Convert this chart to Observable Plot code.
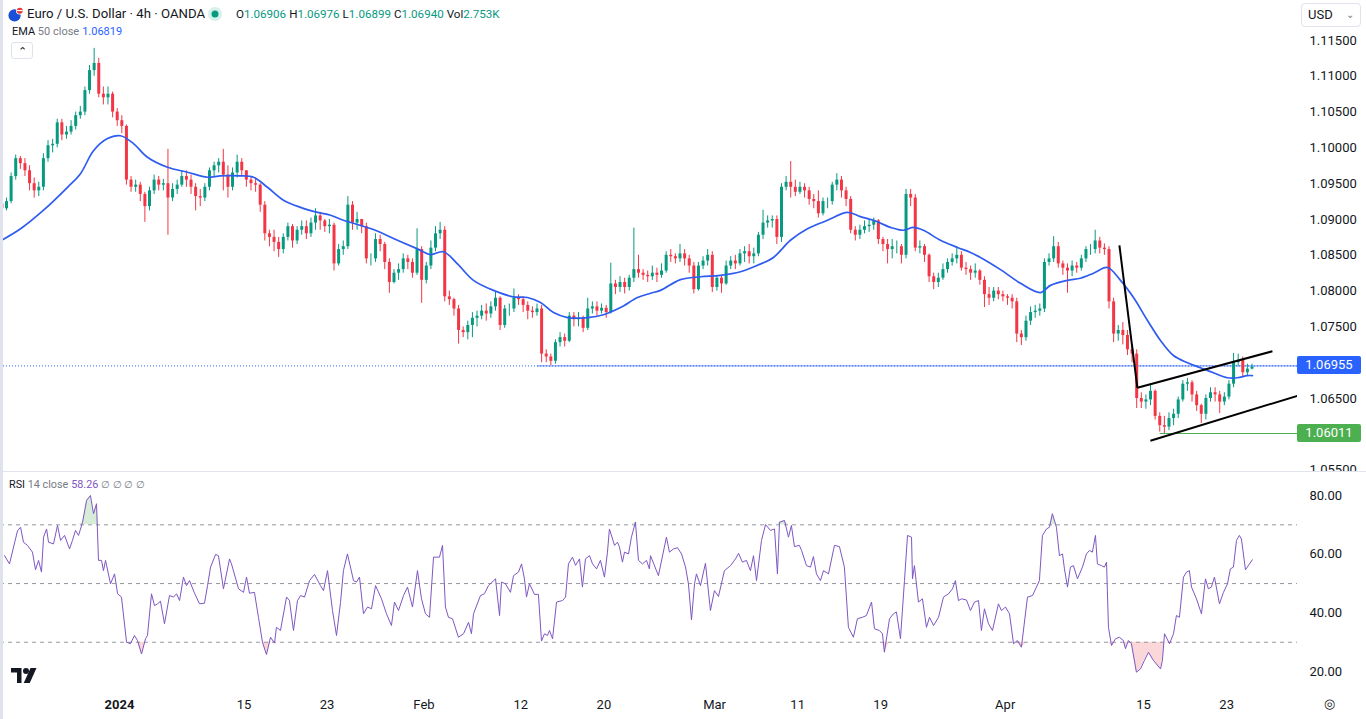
<!DOCTYPE html>
<html><head><meta charset="utf-8">
<script src="https://cdn.jsdelivr.net/npm/d3@7"></script>
<script src="https://cdn.jsdelivr.net/npm/@observablehq/plot@0.6"></script>
<style>
body{margin:0;background:#fff;font-family:Roboto,"Noto Sans",sans-serif;color:#131722}
#root{position:relative;width:1366px;height:719px;overflow:hidden;background:#fff}
.abs{position:absolute;white-space:nowrap;line-height:16px}
.pane{position:absolute;left:0;width:1366px;overflow:hidden}
.g{color:#089981}.gr{color:#787b86}
.sp{display:inline-block;width:3px}
.box{position:absolute;left:1297px;width:64px;height:18px;border-radius:2px;color:#fff;font-size:13px;line-height:18px;text-align:center}
</style></head><body><div id="root"></div>
<script>
// ---------- DATA ----------
const firstDay = "2023-12-18", lastDay = "2024-04-24";
const holidays = ["2023-12-25", "2024-01-01"];
const firstOpen = 1.0918;
// 8-hour candles, three per trading day (closes)
const close = [
1.0922,1.0915,1.0925, 1.0960,1.0985,1.0978, 1.0968,1.0950,1.0940, 1.0945,1.0985,1.1003, 1.1005,1.1035,1.1018,
1.1022,1.1030,1.1045, 1.1050,1.1080,1.1108, 1.1118,1.1075,1.1070, 1.1075,1.1050,1.1038,
1.1030,1.0955,1.0945, 1.0948,1.0935,1.0918, 1.0940,1.0955,1.0948, 1.0950,1.0930,1.0942,
1.0948,1.0960,1.0955, 1.0945,1.0932,1.0930, 1.0945,1.0968,1.0975, 1.0980,1.0962,1.0945, 1.0965,1.0980,1.0968,
1.0955,1.0950,1.0948, 1.0920,1.0880,1.0875, 1.0868,1.0858,1.0875, 1.0890,1.0870,1.0885, 1.0890,1.0880,1.0895,
1.0905,1.0898,1.0890, 1.0892,1.0838,1.0858, 1.0862,1.0920,1.0895, 1.0900,1.0890,1.0845, 1.0845,1.0872,1.0865,
1.0840,1.0812,1.0825, 1.0830,1.0845,1.0840, 1.0825,1.0858,1.0815, 1.0835,1.0860,1.0880, 1.0885,1.0792,1.0788,
1.0775,1.0745,1.0742, 1.0752,1.0762,1.0765, 1.0772,1.0768,1.0778, 1.0790,1.0752,1.0775, 1.0775,1.0790,1.0788,
1.0780,1.0772,1.0770, 1.0775,1.0712,1.0708, 1.0702,1.0728,1.0735, 1.0730,1.0765,1.0760, 1.0762,1.0748,1.0775,
1.0778,1.0772,1.0776, 1.0770,1.0810,1.0805, 1.0812,1.0805,1.0818, 1.0830,1.0825,1.0822, 1.0820,1.0825,1.0822,
1.0828,1.0850,1.0848, 1.0845,1.0852,1.0845, 1.0835,1.0802,1.0835, 1.0842,1.0850,1.0805, 1.0818,1.0810,1.0835,
1.0842,1.0838,1.0852, 1.0855,1.0848,1.0852, 1.0878,1.0895,1.0898, 1.0900,1.0875,1.0945, 1.0952,1.0945,1.0938,
1.0945,1.0940,1.0928, 1.0925,1.0908,1.0925, 1.0925,1.0948,1.0955, 1.0940,1.0928,1.0885, 1.0878,1.0885,1.0890,
1.0892,1.0898,1.0872, 1.0865,1.0858,1.0862, 1.0862,1.0850,1.0935, 1.0930,1.0860,1.0862, 1.0850,1.0820,1.0812,
1.0818,1.0830,1.0840, 1.0845,1.0850,1.0832, 1.0830,1.0825,1.0828, 1.0815,1.0795,1.0790, 1.0800,1.0795,1.0792,
1.0790,1.0785,1.0740, 1.0735,1.0758,1.0770, 1.0772,1.0775,1.0840, 1.0845,1.0862,1.0838, 1.0832,1.0828,1.0835,
1.0832,1.0845,1.0858, 1.0858,1.0870,1.0860, 1.0858,1.0785,1.0740, 1.0745,1.0738,1.0718, 1.0712,1.0650,1.0645,
1.0648,1.0660,1.0625, 1.0612,1.0610,1.0622, 1.0628,1.0648,1.0670, 1.0672,1.0655,1.0640, 1.0628,1.0650,1.0658,
1.0655,1.0645,1.0652, 1.0670,1.0700,1.0703, 1.0686,1.0691,1.0694];
const high = [
1.0928,1.0926,1.0930, 1.0965,1.0990,1.0988, 1.0985,1.0975,1.0958, 1.0952,1.0992,1.1010, 1.1012,1.1040,1.1040,
1.1030,1.1038,1.1050, 1.1058,1.1085,1.1115, 1.1139,1.1125,1.1085, 1.1085,1.1078,1.1055,
1.1045,1.1032,1.0960, 1.0955,1.0952,1.0938, 1.0945,1.0962,1.0960, 1.0956,1.0998,1.0950,
1.0955,1.0968,1.0968, 1.0962,1.0950,1.0942, 1.0950,1.0972,1.0980, 1.0985,1.0998,1.0975, 1.0972,1.0990,1.0985,
1.0968,1.0960,1.0958, 1.0950,1.0925,1.0885, 1.0885,1.0875,1.0880, 1.0895,1.0893,1.0890, 1.0898,1.0898,1.0902,
1.0915,1.0910,1.0900, 1.0900,1.0895,1.0865, 1.0870,1.0932,1.0925, 1.0910,1.0900,1.0895, 1.0852,1.0880,1.0878,
1.0868,1.0845,1.0830, 1.0838,1.0852,1.0850, 1.0845,1.0887,1.0862, 1.0840,1.0870,1.0890, 1.0896,1.0890,1.0800,
1.0790,1.0780,1.0750, 1.0758,1.0770,1.0772, 1.0780,1.0782,1.0785, 1.0798,1.0792,1.0780, 1.0782,1.0803,1.0795,
1.0792,1.0785,1.0778, 1.0782,1.0780,1.0718, 1.0712,1.0732,1.0742, 1.0740,1.0770,1.0770, 1.0770,1.0765,1.0790,
1.0785,1.0785,1.0782, 1.0780,1.0839,1.0815, 1.0820,1.0818,1.0822, 1.0888,1.0850,1.0830, 1.0828,1.0835,1.0832,
1.0838,1.0855,1.0858, 1.0852,1.0865,1.0858, 1.0850,1.0840,1.0840, 1.0848,1.0858,1.0855, 1.0822,1.0822,1.0842,
1.0848,1.0850,1.0858, 1.0862,1.0865,1.0860, 1.0882,1.0913,1.0905, 1.0905,1.0905,1.0950, 1.0960,1.0981,1.0955,
1.0952,1.0950,1.0945, 1.0935,1.0940,1.0930, 1.0930,1.0952,1.0964, 1.0960,1.0945,1.0932, 1.0890,1.0892,1.0898,
1.0900,1.0902,1.0900, 1.0875,1.0872,1.0872, 1.0870,1.0865,1.0942, 1.0942,1.0935,1.0870, 1.0865,1.0852,1.0825,
1.0825,1.0838,1.0845, 1.0852,1.0862,1.0855, 1.0840,1.0835,1.0838, 1.0830,1.0820,1.0805, 1.0805,1.0805,1.0800,
1.0795,1.0795,1.0790, 1.0745,1.0765,1.0778, 1.0780,1.0782,1.0845, 1.0852,1.0876,1.0868, 1.0842,1.0838,1.0842,
1.0840,1.0850,1.0862, 1.0865,1.0885,1.0875, 1.0866,1.0862,1.0790, 1.0752,1.0756,1.0745, 1.0722,1.0718,1.0658,
1.0655,1.0670,1.0662, 1.0630,1.0625,1.0630, 1.0635,1.0652,1.0675, 1.0678,1.0675,1.0660, 1.0642,1.0655,1.0665,
1.0665,1.0660,1.0658, 1.0675,1.0713,1.0712, 1.0708,1.0698,1.0698];
const low = [
1.0912,1.0910,1.0912, 1.0922,1.0955,1.0970, 1.0960,1.0940,1.0930, 1.0932,1.0940,1.0980, 1.0993,1.1000,1.1010,
1.1012,1.1018,1.1025, 1.1040,1.1045,1.1075, 1.1100,1.1070,1.1060, 1.1060,1.1042,1.1030,
1.1020,1.0948,1.0938, 1.0938,1.0925,1.0896, 1.0912,1.0935,1.0940, 1.0940,1.0878,1.0925,
1.0935,1.0945,1.0945, 1.0935,1.0912,1.0918, 1.0925,1.0940,1.0960, 1.0965,1.0940,1.0930, 1.0940,1.0958,1.0960,
1.0945,1.0940,1.0938, 1.0910,1.0870,1.0862, 1.0855,1.0847,1.0852, 1.0870,1.0860,1.0865, 1.0878,1.0872,1.0875,
1.0885,1.0885,1.0882, 1.0880,1.0828,1.0835, 1.0850,1.0858,1.0885, 1.0885,1.0880,1.0838, 1.0835,1.0840,1.0855,
1.0830,1.0797,1.0810, 1.0815,1.0825,1.0830, 1.0818,1.0822,1.0783, 1.0810,1.0830,1.0855, 1.0872,1.0785,1.0780,
1.0765,1.0726,1.0735, 1.0732,1.0735,1.0750, 1.0760,1.0758,1.0762, 1.0772,1.0745,1.0748, 1.0765,1.0770,1.0780,
1.0770,1.0760,1.0762, 1.0765,1.0700,1.0700, 1.0696,1.0698,1.0722, 1.0722,1.0728,1.0750, 1.0750,1.0742,1.0745,
1.0768,1.0765,1.0768, 1.0762,1.0768,1.0795, 1.0798,1.0796,1.0800, 1.0812,1.0818,1.0815, 1.0812,1.0815,1.0812,
1.0818,1.0825,1.0840, 1.0838,1.0840,1.0835, 1.0825,1.0796,1.0800, 1.0830,1.0835,1.0798, 1.0800,1.0797,1.0808,
1.0830,1.0830,1.0835, 1.0840,1.0838,1.0838, 1.0848,1.0872,1.0888, 1.0888,1.0865,1.0868, 1.0940,1.0930,1.0932,
1.0935,1.0930,1.0920, 1.0915,1.0902,1.0905, 1.0915,1.0920,1.0940, 1.0930,1.0918,1.0880, 1.0870,1.0872,1.0880,
1.0882,1.0885,1.0865, 1.0855,1.0838,1.0845, 1.0852,1.0838,1.0845, 1.0918,1.0855,1.0852, 1.0840,1.0812,1.0802,
1.0805,1.0815,1.0825, 1.0835,1.0838,1.0828, 1.0822,1.0815,1.0818, 1.0808,1.0777,1.0780, 1.0785,1.0788,1.0785,
1.0780,1.0775,1.0728, 1.0724,1.0730,1.0752, 1.0762,1.0765,1.0770, 1.0835,1.0840,1.0832, 1.0822,1.0797,1.0820,
1.0825,1.0828,1.0840, 1.0850,1.0852,1.0852, 1.0850,1.0775,1.0728, 1.0730,1.0725,1.0710, 1.0700,1.0636,1.0636,
1.0635,1.0640,1.0620, 1.0603,1.0601,1.0605, 1.0612,1.0622,1.0645, 1.0660,1.0645,1.0632, 1.0615,1.0620,1.0645,
1.0645,1.0629,1.0640, 1.0648,1.0665,1.0695, 1.0680,1.0682,1.0690];
// EMA 50: [trading days since 2 Jan 2024, value]
const ema = [[-8.6,1.0870],[-7.15,1.0887],[-5.49,1.0913],[-3.76,1.0945],[-2.82,1.0964],[-1.88,1.0996],[-0.87,1.1013],[0.07,1.1017],[1.01,1.1006],[2.02,1.0987],[3.47,1.0973],[4.91,1.0966],[6.36,1.0959],[7.3,1.0961],[8.74,1.0961],[9.68,1.0959],[10.69,1.0945],[11.85,1.0927],[13.08,1.0917],[14.31,1.0910],[15.25,1.0906],[16.18,1.0899],[18.35,1.0886],[20.09,1.0871],[21.53,1.0859],[22.47,1.0851],[23.41,1.0855],[24.42,1.0838],[25.58,1.0815],[27.02,1.0801],[28.47,1.0792],[29.48,1.0791],[30.42,1.0784],[31.36,1.0770],[32.37,1.0763],[33.82,1.0763],[34.97,1.0767],[36.2,1.0777],[37.43,1.0791],[38.37,1.0797],[39.09,1.0801],[40.53,1.0816],[41.98,1.0820],[43.42,1.0822],[44.87,1.0827],[46.1,1.0836],[47.25,1.0847],[48.48,1.0871],[49.71,1.0887],[51.16,1.0899],[52.6,1.0910],[53.54,1.0904],[54.48,1.0899],[55.71,1.0889],[56.65,1.0885],[57.37,1.0889],[58.09,1.0885],[59.32,1.0871],[60.55,1.0861],[61.49,1.0854],[62.21,1.0847],[63.66,1.0830],[65.1,1.0811],[66.55,1.0798],[67.27,1.0808],[68.5,1.0815],[69.44,1.0818],[70.38,1.0825],[71.39,1.0833],[72.33,1.0815],[73.27,1.0791],[74.28,1.0759],[75.22,1.0731],[76.16,1.0710],[77.17,1.0700],[78.11,1.0693],[79.05,1.0686],[80.06,1.0679],[80.78,1.0679],[81.5,1.0682],[81.86,1.0682]];
// RSI 14: [trading days since 2 Jan 2024, value]
const rsi = [[-8.31,59.5],[-7.95,56.7],[-7.37,68],[-7.15,69.2],[-6.94,64.1],[-6.65,63],[-6.29,60.7],[-6.07,54.7],[-5.85,57.9],[-5.64,53.9],[-5.49,65.8],[-5.27,68.6],[-5.13,64.1],[-4.77,63.5],[-4.48,69.8],[-4.26,64.7],[-3.97,66.4],[-3.61,61.8],[-3.4,64.7],[-3.18,68.1],[-2.96,66.4],[-2.67,70.9],[-2.38,78.3],[-2.1,80],[-1.88,73.8],[-1.66,77.2],[-1.52,57.9],[-1.3,57.9],[-1.16,54.4],[-1.01,57.9],[-0.65,49.9],[-0.36,53.3],[-0.14,46.5],[0.14,45.4],[0.51,30],[0.79,29.5],[1.08,32.3],[1.3,30.6],[1.59,26],[1.88,31.2],[2.02,32.3],[2.31,46.5],[2.53,42.5],[2.75,43.1],[2.96,44],[3.25,36.3],[3.61,45.9],[3.9,45.4],[4.12,46.5],[4.34,44.2],[4.62,52.2],[4.84,49.3],[5.06,51],[5.42,46.7],[5.78,43.1],[6.14,43.3],[6.36,49.3],[6.58,55.6],[6.94,59.9],[7.15,59.5],[7.51,48.2],[7.95,58.4],[8.09,56.7],[8.6,48.2],[8.96,47],[9.18,52.2],[9.39,46.7],[9.75,47],[10.04,38.5],[10.33,30],[10.62,25.8],[10.91,31.7],[11.2,29.7],[11.34,35.1],[11.63,34],[12.07,45.4],[12.28,44.2],[12.57,34],[12.86,44.2],[13.08,45.9],[13.37,45.4],[13.73,51],[14.09,53.1],[14.52,49.3],[14.74,47.6],[15.03,54.4],[15.39,40.8],[15.68,32.3],[15.97,43.6],[16.18,54.4],[16.47,60.1],[16.91,51],[17.12,50.5],[17.34,52.2],[17.63,39.7],[17.92,42],[18.21,41.4],[18.5,49.3],[18.93,44.8],[19.29,39.7],[19.65,35.7],[19.87,43.7],[20.16,40.8],[20.52,45.9],[20.81,48.8],[21.17,42],[21.53,54.4],[21.82,44.8],[22.11,39.7],[22.4,38.5],[22.69,59],[23.12,59],[23.34,63],[23.55,42],[23.77,38.5],[24.06,38],[24.49,31.7],[24.86,32.9],[25.22,36.8],[25.43,32.9],[25.58,39.7],[26.08,45.9],[26.37,46.5],[26.66,49.3],[27.17,51.6],[27.46,39.1],[27.6,50.5],[27.89,49.9],[28.25,47],[28.47,52.7],[28.83,53.9],[29.05,56.7],[29.26,51.6],[29.41,45.4],[29.62,49.9],[29.99,46.3],[30.27,46.3],[30.49,30.4],[30.71,32.9],[30.92,32.3],[31.07,34],[31.29,31.2],[31.58,43.7],[32.01,44.2],[32.23,45.4],[32.44,56.7],[32.73,59],[32.95,56.2],[33.24,58.4],[33.45,48.8],[33.67,58.4],[33.96,59.5],[34.18,56.7],[34.47,55],[34.75,57.9],[35.04,52.2],[35.26,60.7],[35.4,68.6],[35.77,63],[35.98,64.1],[36.13,62.4],[36.34,57.3],[36.49,60.7],[36.78,60.1],[36.99,65.8],[37.28,70.9],[37.5,57.9],[37.79,56.7],[38.08,57.9],[38.29,55],[38.37,59.5],[38.94,52.7],[39.52,65.8],[39.74,60.7],[40.03,61.8],[40.32,62.2],[40.61,60.1],[40.9,55.6],[41.11,49.9],[41.33,37.6],[41.55,49.9],[41.69,53.3],[41.98,49.3],[42.34,56.9],[42.7,40.8],[42.99,47.6],[43.28,45.6],[43.71,54.4],[44.15,56.1],[44.51,58.4],[44.73,60.3],[45.01,57.3],[45.3,57.9],[45.59,54.4],[45.81,59.5],[46.03,51],[46.39,64.7],[46.68,70.1],[47.04,68.1],[47.33,68.6],[47.54,53.3],[47.69,70.9],[48.05,71.5],[48.34,65.8],[48.55,69.8],[48.77,62.6],[49.13,63],[49.28,61.3],[49.64,56.1],[49.93,55.6],[50.14,59.2],[50.36,53.3],[50.65,51],[50.87,54.4],[51.23,53.3],[51.66,63],[52.02,62.6],[52.38,55.6],[52.67,35.1],[53.03,31.7],[53.32,38],[53.68,38.5],[53.97,39.1],[54.34,43.7],[54.55,34.6],[54.91,34],[55.13,32.9],[55.27,26.6],[55.64,38],[55.92,39.7],[56.14,40.3],[56.43,31.2],[56.72,51],[56.94,66.4],[57.23,65.8],[57.3,51.6],[57.44,56.1],[57.73,43.7],[58.02,44.8],[58.31,35.1],[58.53,38.5],[58.82,35.7],[59.18,38.5],[59.54,45.4],[59.9,46.5],[60.19,48.2],[60.4,51],[60.62,44.2],[60.84,44.8],[61.2,44.4],[61.49,40.8],[61.78,43.7],[62.07,44.2],[62.28,34],[62.5,41.4],[62.79,36.3],[63.08,34],[63.51,43.1],[63.73,40.8],[64.02,42],[64.31,39.7],[64.6,29.5],[64.88,30.6],[65.17,28.3],[65.61,45.4],[65.97,45.9],[66.26,48.8],[66.47,51],[66.69,66.4],[66.98,68.6],[67.2,69.2],[67.41,73.8],[67.7,69.2],[67.92,59.5],[68.14,60.1],[68.28,55],[68.5,48.8],[68.71,55.6],[68.93,56.1],[69.22,51.6],[69.58,55.6],[69.87,60.1],[70.09,61.3],[70.3,60.7],[70.52,66.4],[70.66,56.7],[70.95,56.1],[71.17,55.6],[71.32,57.3],[71.46,35.1],[71.68,28.9],[71.97,31.2],[72.25,31.7],[72.54,30.6],[72.69,27.8],[72.9,30.6],[73.12,29.5],[73.48,19.8],[73.77,20.9],[74.06,23.8],[74.35,26.6],[74.71,23.8],[75.22,20.9],[75.36,23.8],[75.51,32.9],[75.87,29.5],[76.16,32.9],[76.37,39.1],[76.59,38.5],[76.88,52.2],[77.1,53.9],[77.31,54.4],[77.46,48.8],[77.82,44.8],[78.18,39.7],[78.47,51.6],[78.68,48.2],[78.9,48.8],[79.12,52.2],[79.48,43.1],[79.77,47],[80.06,49.9],[80.27,55],[80.49,55.6],[80.71,64.7],[80.92,66.4],[81.07,65.2],[81.36,54.7],[81.86,58.1]];
// Drawn trend lines: [t1, p1, t2, p2]
const trendLines = [[72.25,1.0864,73.55,1.0665],[73.55,1.0665,83.31,1.0716],[74.49,1.0591,86.0,1.0659]];
const blueLevel = 1.06955, blueLevelFrom = 30.2;
const greenLevel = 1.06011, greenLevelFrom = 75.2;
const priceTicks = [1.055,1.065,1.075,1.08,1.085,1.09,1.095,1.10,1.105,1.11,1.115];
const rsiTicks = [20,40,60,80];
const rsiLevels = [70,50,30];
const dateTicks = ["2024-01-02","2024-01-15","2024-01-23","2024-02-01","2024-02-12","2024-02-20","2024-03-01","2024-03-11","2024-03-19","2024-04-01","2024-04-15","2024-04-23"];
const dateLabels = ["2024","15","23","Feb","12","20","Mar","11","19","Apr","15","23"];
const header = {o:"1.06906", h:"1.06976", l:"1.06899", c:"1.06940", vol:"2.753K", ema:"1.06819", rsi:"58.26"};

// ---------- BUILD ----------
const tradingDays = [];
for (let dt = new Date(firstDay + "T00:00Z"); dt <= new Date(lastDay + "T00:00Z"); dt = new Date(dt.getTime() + 864e5)) {
  const s = dt.toISOString().slice(0, 10), wd = dt.getUTCDay();
  if (wd !== 0 && wd !== 6 && !holidays.includes(s)) tradingDays.push(s);
}
const d0 = tradingDays.indexOf("2024-01-02");
const dayT = s => tradingDays.indexOf(s) - d0;
const candles = close.map((c, i) => {
  const o = i === 0 ? firstOpen : close[i - 1];
  return {t: Math.floor(i / 3) - d0 + ((i % 3) + 0.5) / 3, o, c, h: high[i], l: low[i], col: c >= o ? "#089981" : "#f23645"};
});
const emaData = ema.map(([t, v]) => ({t, v}));
const rsiData = rsi.map(([t, v]) => ({t, v}));
const trendData = trendLines.map(([t1, p1, t2, p2]) => ({t1, p1, t2, p2}));
const tickT = dateTicks.map(dayT);
const X_DOMAIN = [-8.6, 85.12];
const FONT = "Roboto, 'Noto Sans', sans-serif";

const priceChart = Plot.plot({
  width: 1366, height: 471, marginLeft: 0, marginRight: 69, marginTop: 0, marginBottom: 0,
  style: {fontFamily: FONT, fontSize: "13px", color: "#131722", background: "transparent"},
  color: {type: "identity"},
  x: {type: "linear", domain: X_DOMAIN, axis: null},
  y: {domain: [1.054804, 1.120587], axis: "right", ticks: priceTicks, tickFormat: d => d.toFixed(5), tickSize: 0, tickPadding: 12, label: null},
  marks: [
    Plot.ruleY([blueLevel], {stroke: "#2962ff", strokeDasharray: "1,2", strokeWidth: 1}),
    Plot.ruleY([blueLevel], {x1: blueLevelFrom, x2: X_DOMAIN[1], stroke: "#2962ff", strokeWidth: 1, strokeOpacity: 0.7}),
    Plot.ruleY([greenLevel], {x1: greenLevelFrom, x2: X_DOMAIN[1], stroke: "#4caf50", strokeWidth: 1}),
    Plot.ruleX(candles, {x: "t", y1: "l", y2: "h", stroke: "col", strokeWidth: 1, clip: true}),
    Plot.ruleX(candles, {x: "t", y1: "o", y2: "c", stroke: "col", strokeWidth: 3, clip: true}),
    Plot.line(emaData, {x: "t", y: "v", stroke: "#2f5cf0", strokeWidth: 1.7, curve: "catmull-rom", clip: true}),
    Plot.link(trendData, {x1: "t1", y1: "p1", x2: "t2", y2: "p2", stroke: "#000", strokeWidth: 2, clip: true})
  ]
});

const rsiChart = Plot.plot({
  width: 1366, height: 247, marginLeft: 0, marginRight: 69, marginTop: 0, marginBottom: 29,
  style: {fontFamily: FONT, fontSize: "13px", color: "#131722", background: "transparent"},
  x: {type: "linear", domain: X_DOMAIN, ticks: tickT, tickFormat: t => dateLabels[tickT.indexOf(t)], tickSize: 0, tickPadding: 9, label: null},
  y: {domain: [13.56, 87.84], axis: "right", ticks: rsiTicks, tickFormat: d => d.toFixed(2), tickSize: 0, tickPadding: 12, label: null},
  marks: [
    Plot.areaY(rsiData, {x: "t", y1: 70, y2: d => Math.max(d.v, 70), fill: "#4caf50", fillOpacity: 0.22}),
    Plot.areaY(rsiData, {x: "t", y1: 30, y2: d => Math.min(d.v, 30), fill: "#f23645", fillOpacity: 0.2}),
    Plot.ruleY(rsiLevels, {stroke: "#9598a1", strokeDasharray: "4,4", strokeWidth: 1}),
    Plot.line(rsiData, {x: "t", y: "v", stroke: "#7e57c2", strokeWidth: 1})
  ]
});
rsiChart.querySelectorAll("text").forEach(t => { if (t.textContent === "2024") t.setAttribute("font-weight", "700"); });

const root = document.getElementById("root");
const pp = document.createElement("div"); pp.className = "pane"; pp.style.top = "0px"; pp.style.height = "471px"; pp.appendChild(priceChart); root.appendChild(pp);
const rp = document.createElement("div"); rp.className = "pane"; rp.style.top = "472px"; rp.style.height = "247px"; rp.appendChild(rsiChart); root.appendChild(rp);

const yS = priceChart.scale("y");
const html = `
<div class="abs" style="left:0;top:0;width:3px;height:719px;background:#e0e3eb"></div>
<div class="abs" style="left:0;top:471px;width:1366px;height:1px;background:#e0e3eb"></div>
<div class="box" style="top:${yS.apply(blueLevel) - 9}px;background:#2962ff">${blueLevel.toFixed(5)}</div>
<div class="box" style="top:${yS.apply(greenLevel) - 9}px;background:#4caf50">${greenLevel.toFixed(5)}</div>
<svg class="abs" style="left:7px;top:6px" width="17" height="17" viewBox="0 0 18 18"><circle cx="8" cy="10" r="6.5" fill="#1b4fd8"/><circle cx="13.5" cy="5" r="4" fill="#fff"/><circle cx="13.5" cy="5" r="3.2" fill="#e53935"/><rect x="10.5" y="4.2" width="6" height="1.2" fill="#fff"/></svg>
<div class="abs" style="left:27px;top:5px;font-size:13.2px;line-height:18px;color:#131722">Euro / U.S. Dollar · 4h · OANDA</div>
<svg class="abs" style="left:207px;top:6px" width="16" height="16"><circle cx="8" cy="8" r="7" fill="#d6f0ea"/><circle cx="8" cy="8" r="3.5" fill="#089981"/></svg>
<div class="abs" style="left:236px;top:6px;font-size:11.6px;color:#131722">O<span class="g">${header.o}</span><span class="sp"></span>H<span class="g">${header.h}</span><span class="sp"></span>L<span class="g">${header.l}</span><span class="sp"></span>C<span class="g">${header.c}</span><span class="sp"></span>Vol<span class="g">${header.vol}</span></div>
<div class="abs" style="left:12px;top:24px;font-size:11px;color:#131722">EMA <span class="gr">50 close</span><span class="sp"></span><span style="color:#2962ff">${header.ema}</span></div>
<div class="abs" style="left:11px;top:42px;width:20px;height:15px;border:1px solid #e0e3eb;border-radius:3px;text-align:center;font-size:11px;line-height:17px;color:#131722">&#8963;</div>
<div class="abs" style="left:1301px;top:3px;width:58px;height:22px;border:1px solid #e0e3eb;border-radius:4px;font-size:13px;line-height:22px;color:#131722"><span style="margin-left:6px">USD</span><span style="position:absolute;right:6px;font-size:10px;color:#787b86">&#8964;</span></div>
<div class="abs" style="left:9px;top:477px;font-size:10.8px;color:#131722">RSI <span class="gr">14 close</span><span class="sp"></span><span style="color:#7e57c2">${header.rsi}</span><span class="sp"></span><span class="gr" style="font-size:10px">∅ ∅ ∅ ∅</span></div>
<svg class="abs" style="left:11px;top:668px" width="27" height="15" viewBox="0 0 36 20"><path d="M0 0h14v20H8V6H0z" fill="#131722"/><circle cx="20" cy="4" r="4" fill="#131722"/><path d="M26 0h8l-9 20h-8z" fill="#131722"/></svg>
<div class="abs" style="left:1324px;top:696px;font-size:13px;color:#131722">&#9678;</div>
`;
root.insertAdjacentHTML("beforeend", html);
</script></body></html>
